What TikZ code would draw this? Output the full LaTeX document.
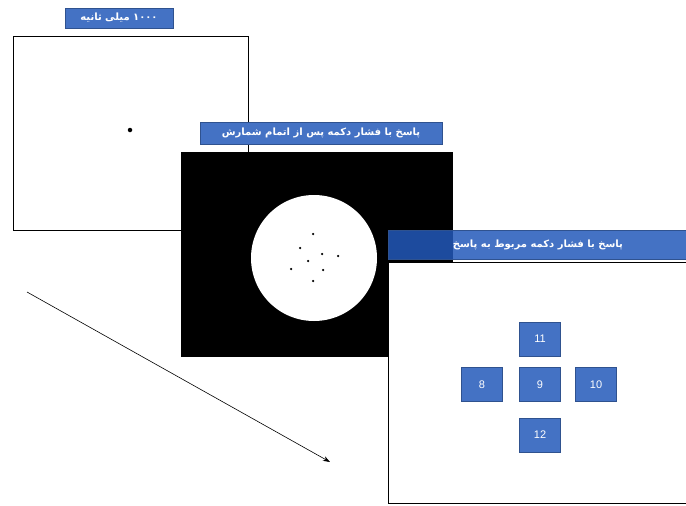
\documentclass[tikz,border=0pt]{standalone}
\usepackage{fontspec}
\newfontfamily\arabicfont[Script=Arabic]{DejaVu Sans}
\TeXXeTstate=1
\usetikzlibrary{arrows.meta}
\definecolor{lblue}{RGB}{68,114,196}
\definecolor{tblue}{RGB}{35,89,186}
\definecolor{dblue}{RGB}{47,82,143}
\tikzset{
  frame/.style={draw=black, line width=1pt, fill=white},
  label/.style={draw=dblue, fill=lblue, line width=0.6pt, text=white, inner sep=0pt,
    font=\arabicfont\bfseries\fontsize{10}{12}\selectfont},
  numbox/.style={draw=dblue, fill=lblue, line width=0.6pt, text=white, inner sep=0pt,
    minimum width=41pt, minimum height=34pt, font=\fontspec{Liberation Sans}\fontsize{11}{13}\selectfont},
  dot/.style={circle, fill=black, inner sep=0pt, minimum size=3pt},
}
\begin{document}
\begin{tikzpicture}[x=1pt,y=-1pt]
\useasboundingbox (0,0) rectangle (686,506);
% screen 1
\node[frame, minimum width=235pt, minimum height=194pt, inner sep=0pt] (s1) at (130.5,133) {};
\node[dot, minimum size=4.5pt] (fix) at (130,130) {};
\node[label, minimum width=108pt, minimum height=20pt] (l1) at (119,18) {\beginR ۱۰۰۰ میلی ثانیه\endR};
% screen 2
\node[draw=black, fill=black, minimum width=271pt, minimum height=204pt, inner sep=0pt] (s2) at (316.5,254) {};
\node[circle, fill=white, minimum size=126pt, inner sep=0pt] (disc) at (314,258) {};
\foreach \i/\p in {1/{(313,234)},2/{(300,248)},3/{(322,254)},4/{(338,256)},5/{(308,261)},6/{(291,269)},7/{(323,270)},8/{(313,281)}}
  \node[dot, minimum size=2.5pt] (d\i) at \p {};
\node[label, minimum width=242pt, minimum height=22pt] (l2) at (321,133) {\beginR پاسخ با فشار دکمه پس از اتمام شمارش\endR};
% screen 3
\node[frame, minimum width=310pt, minimum height=241pt, inner sep=0pt] (s3) at (543,382.5) {};
\node[label, fill=tblue, fill opacity=0.85, text opacity=1, minimum width=300pt, minimum height=29pt] (l3) at (538,245) {\beginR پاسخ با فشار دکمه مربوط به پاسخ\endR};
\node[numbox] (n11) at (540,339) {11};
\node[numbox] (n8) at (482,384.5) {8};
\node[numbox] (n9) at (540,384.5) {9};
\node[numbox] (n10) at (596,384.5) {10};
\node[numbox] (n12) at (540,435) {12};
% time arrow
\coordinate (t0) at (27,292);
\coordinate (t1) at (330,462);
\draw[line width=0.6pt, -{Stealth[length=7pt,width=5pt]}] (t0) -- (t1);
\end{tikzpicture}
\end{document}
